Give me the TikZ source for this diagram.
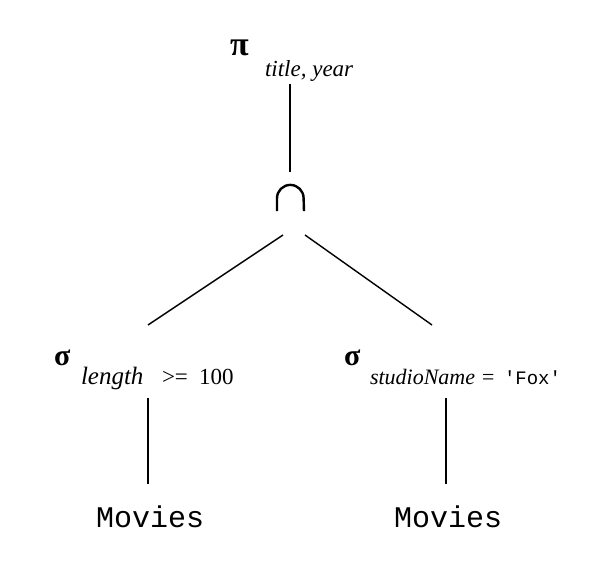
\documentclass[tikz,border=0pt]{standalone}
\usepackage{fontspec}
\setmainfont{Liberation Serif}
\setmonofont{Liberation Mono}
\begin{document}
\begin{tikzpicture}[x=1pt,y=-1pt,
  lbl/.style={anchor=base west, inner sep=0pt, outer sep=0pt},
  greek/.style={lbl, font=\fontsize{30}{30}\selectfont\bfseries},
  sub/.style={lbl, font=\fontsize{22}{22}\selectfont},
  rel/.style={lbl, font=\fontsize{30}{30}\selectfont\ttfamily},
  edge/.style={line width=1.4pt}]
\path[use as bounding box] (0,0) rectangle (614,564);
% projection
\node[lbl, font=\fontsize{34}{34}\selectfont\bfseries] (pi) at (230,56) {π};
\node[sub, font=\fontsize{23}{23}\selectfont] (pisub) at (265,77) {\itshape title, year};
% intersection
\node[inner sep=0pt, minimum width=29pt, minimum height=27pt] (cap) at (290.5,197.5) {};
\draw[line width=2.4pt] ([xshift=1.2pt]cap.south west) -- ++(0,-13)
  arc[start angle=180, end angle=0, radius=13.3pt] -- ([xshift=-1.2pt]cap.south east);
% selections
\node[greek] (sl) at (54,366) {σ};
\node[sub, font=\fontsize{25}{25}\selectfont] (sl1) at (81,385) {\itshape length};
\node[sub, font=\fontsize{23}{23}\selectfont] (sl2) at (162,385) {>=};
\node[sub, font=\fontsize{23}{23}\selectfont] (sl3) at (199,385) {100};
\node[greek] (sr) at (344,366) {σ};
\node[sub] (sr1) at (370,385) {\itshape studioName\/ =};
\node[lbl, font=\fontsize{19}{19}\selectfont\ttfamily] (fox) at (504,385) {'Fox'};
% relations
\node[rel] (ml) at (96,527) {Movies};
\node[rel] (mr) at (394,527) {Movies};
% connector ends
\coordinate (a1) at (290,84);  \coordinate (a2) at (290,172);
\coordinate (b1) at (283,235); \coordinate (b2) at (148,325);
\coordinate (c1) at (305,235); \coordinate (c2) at (432,325);
\coordinate (d1) at (148,398); \coordinate (d2) at (148,484);
\coordinate (e1) at (446,398); \coordinate (e2) at (446,484);
\draw[edge] (a1) -- (a2);
\draw[edge] (b1) -- (b2);
\draw[edge] (c1) -- (c2);
\draw[edge] (d1) -- (d2);
\draw[edge] (e1) -- (e2);
\end{tikzpicture}
\end{document}
